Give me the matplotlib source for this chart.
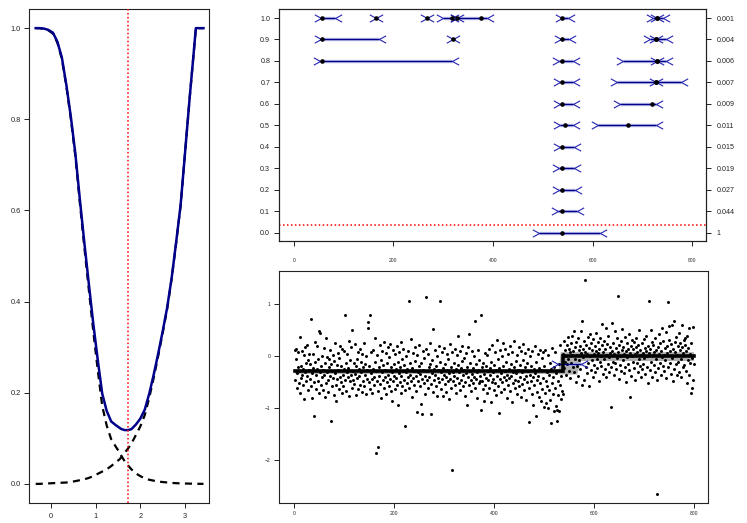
import matplotlib
matplotlib.use("Agg")
import matplotlib.pyplot as plt
from matplotlib.path import Path
import numpy as np

plt.rcParams['font.family'] = ['Liberation Sans', 'DejaVu Sans']

# ---------------- left panel data ----------------
curve_x = [-0.335, -0.25, -0.15, -0.05, 0.05, 0.15, 0.25, 0.35, 0.45, 0.55, 0.65, 0.75, 0.85,
           0.95, 1.05, 1.15, 1.25, 1.35, 1.45, 1.55, 1.585, 1.65, 1.73, 1.8, 1.9, 2.0, 2.1,
           2.2, 2.3, 2.4, 2.5, 2.6, 2.7, 2.8, 2.9, 3.0, 3.1, 3.2, 3.24, 3.3, 3.41]
total_y = [1.0, 1.0, 0.999, 0.996, 0.99, 0.97, 0.935, 0.875, 0.805, 0.725, 0.625, 0.53, 0.44,
           0.352, 0.272, 0.198, 0.16, 0.137, 0.129, 0.122, 0.12, 0.118, 0.118, 0.12, 0.13, 0.143, 0.163,
           0.198, 0.24, 0.286, 0.335, 0.387, 0.452, 0.53, 0.612, 0.728, 0.845, 0.955, 1.0, 1.0, 1.0]
dec_y = [1.0, 1.0, 0.998, 0.995, 0.988, 0.968, 0.932, 0.872, 0.801, 0.719, 0.617, 0.52, 0.427,
         0.335, 0.25, 0.171, 0.128, 0.098, 0.082, 0.067, 0.06, 0.05, 0.04, 0.032, 0.023, 0.017, 0.012,
         0.009, 0.007, 0.005, 0.004, 0.003, 0.002, 0.0015, 0.001, 0.0008, 0.0005, 0.0003, 0.0002, 0.0001, 0.0]
inc_y = [0.0, 0.0, 0.0005, 0.001, 0.0015, 0.002, 0.0025, 0.003, 0.004, 0.006, 0.008, 0.010, 0.013,
         0.017, 0.022, 0.027, 0.032, 0.039, 0.047, 0.055, 0.06, 0.068, 0.078, 0.088, 0.107, 0.126, 0.151,
         0.189, 0.233, 0.281, 0.331, 0.384, 0.45, 0.5285, 0.611, 0.7272, 0.8445, 0.9547, 0.9998, 1.0, 1.0]
left_vline = 1.73

# ---------------- top right panel data ----------------
levels = [0.0, 0.1, 0.2, 0.3, 0.4, 0.5, 0.6, 0.7, 0.8, 0.9, 1.0]
pvalue_labels = ['1', '0.044', '0.027', '0.019', '0.015', '0.011', '0.009', '0.007', '0.006', '0.004', '0.001']
ci_level = [1.0, 1.0, 1.0, 1.0, 1.0, 1.0, 1.0, 1.0, 1.0,
            0.9, 0.9, 0.9, 0.9, 0.9,
            0.8, 0.8, 0.8, 0.8,
            0.7, 0.7, 0.7,
            0.6, 0.6,
            0.5, 0.5,
            0.4, 0.3, 0.2, 0.1, 0.0]
ci_left = [54, 165, 267, 299, 327, 327, 539, 722, 730,
           54, 319, 536, 716, 728,
           53, 533, 660, 730,
           534, 649, 728,
           534, 655,
           534, 611,
           534, 533, 533, 531, 492]
ci_est = [57, 165, 267, 318, 327, 375, 539, 730, 730,
          57, 319, 539, 728, 728,
          57, 539, 730, 730,
          539, 728, 728,
          539, 720,
          545, 671,
          539, 539, 539, 539, 539]
ci_right = [83, 165, 267, 318, 327, 387, 551, 742, 730,
            171, 319, 553, 747, 728,
            318, 560, 748, 730,
            561, 777, 728,
            561, 727,
            561, 728,
            562, 563, 565, 568, 615]
alpha_line = 0.037

# ---------------- bottom right panel data ----------------
seg1 = [
 -0.45, 0.12, -0.05, 0.15, -0.32, -0.60, 0.08, -0.20, -0.28, -0.52, -0.70, 0.38, -0.18, -0.41, 0.10, -0.35, -0.25, -0.55, 0.02, -0.82,
 -0.30, 0.18, -0.12, -0.48, -0.38, 0.21, -0.65, -0.08, -0.27, 0.05, -0.44, -0.15, -0.58, 0.72, -0.33, -0.80, 0.04, -0.22, -1.15, -0.50,
 -0.10, 0.28, -0.62, -0.36, -0.24, 0.19, -0.47, -0.05, -0.70, 0.49, -0.30, 0.44, -0.18, -0.56, -0.40, 0.00, -0.64, -0.26, 0.16, -0.35,
 -0.78, -0.12, 0.36, -0.52, -0.31, -0.02, -0.45, -0.68, -0.20, -0.06, 0.12, -0.38, -1.24, -0.15, -0.58, -0.29, 0.03, -0.42, -0.74, -0.09,
 -0.33, 0.25, -0.55, -0.85, -0.16, -0.44, 0.07, -0.27, -0.62, -0.03, -0.39, 0.20, -0.50, -0.19, -0.71, 0.14, -0.35, -0.57, 0.10, -0.25,
 -0.46, 0.80, -0.13, -0.66, -0.30, 0.05, -0.40, -0.22, -0.76, 0.30, -0.48, -0.08, -0.36, 0.18, -0.60, 0.50, -0.28, -0.45, -0.12, -0.53,
 0.23, -0.34, -0.75, -0.19, -0.05, -0.42, 0.09, -0.63, -0.25, -0.38, 0.15, -0.55, -0.11, -0.30, -0.68, 0.04, -0.21, -0.47, 0.26, -0.58,
 -0.36, -0.14, -0.72, 0.00, -0.43, -0.27, 0.55, 0.66, -0.50, -0.18, -0.62, 0.79, -0.32, 0.08, -0.44, -0.70, -0.24, 0.12, -0.39, -0.56,
 -0.10, 0.35, -1.85, -0.28, -0.48, 0.02, -0.66, -1.75, -0.20, -0.37, 0.22, -0.53, -0.07, -0.81, -0.31, 0.10, -0.45, -0.16, 0.28, -0.60,
 -0.26, -0.40, 0.06, -0.73, -0.12, -0.50, 0.17, -0.35, -0.58, -0.02, -0.44, 0.24, -0.67, -0.21, -0.30, -0.86, 0.13, -0.47, -0.15, -0.38,
 0.04, -0.62, -0.25, -0.42, 0.19, -0.55, -0.93, -0.11, -0.33, 0.09, -0.49, -0.20, -0.70, 0.27, -0.37, -0.06, -0.57, -0.29, 0.14, -0.45,
 -0.17, -0.64, -1.33, -0.31, 0.01, -0.52, -0.24, -0.40, 0.11, 1.06, -0.60, -0.13, -0.36, 0.33, -0.48, -0.78, -0.22, 0.07, -0.42, -0.28,
 -0.55, 0.18, -0.09, -0.38, -0.66, -1.07, 0.03, -0.30, -0.47, -0.19, 0.22, -0.58, -0.34, -0.92, -0.12, -0.43, -1.10, 0.10, -0.26, -0.51,
 -0.04, -0.37, -0.72, 0.15, 1.15, -0.29, -0.45, 0.05, -0.61, -0.21, -0.40, -0.14, 0.26, -0.53, -1.10, -0.32, -0.08, -0.68, 0.52, -0.24,
 -0.46, 0.12, -0.35, -0.57, -0.18, 0.00, -0.77, -0.41, -0.27, 0.20, -0.50, -0.11, 1.06, -0.63, -0.30, 0.08, -0.44, -0.22, -0.77, -0.36,
 0.16, -0.54, -0.15, -0.39, -0.68, 0.04, -0.26, -0.48, -0.05, -0.82, -0.33, 0.23, -0.43, -0.20, -0.60, 0.09, -2.19, -0.31, -0.47, -0.12,
 -0.38, 0.14, -0.56, -0.25, -0.70, 0.02, -0.42, 0.40, -0.17, -0.52, -0.30, 0.11, -0.64, -0.22, -0.45, -0.09, 0.19, -0.36, -0.58, -0.27,
 -0.03, -0.49, -0.76, 0.06, -0.33, -0.20, -0.93, -0.40, 0.17, -0.55, 0.42, -0.28, -0.12, -0.46, -0.66, 0.10, -0.34, -0.23, -0.51, 0.01,
 -0.39, 0.68, -0.60, -0.15, -0.44, -0.30, -0.80, 0.13, -0.26, -0.52, -0.08, -0.48, -0.37, 0.79, -1.03, -0.21, -0.47, -0.62, -0.12, -0.85,
 -0.34, 0.07, -0.55, -0.18, -0.41, -0.70, 0.03, -0.28, -0.46, 0.15, -0.60, -0.22, -0.36, -0.88, -0.10, -0.50, 0.21, -0.31, -0.43, -0.65,
 -0.16, 0.09, -0.52, -0.27, -0.74, 0.31, -0.38, -0.05, -0.58, -1.08, -0.23, 0.12, -0.44, -0.32, -0.68, 0.00, -0.50, -0.19, 0.25, -0.40,
 -0.62, -0.29, 0.14, -0.46, -0.11, -0.80, -0.35, 0.05, -0.55, -0.24, -0.42, 0.20, -0.67, -0.14, -0.37, -0.88, 0.08, -0.30, -0.52, -0.20,
 0.30, -0.45, -0.61, -0.09, -0.33, 0.02, -0.72, -0.26, -0.48, 0.18, -0.58, -0.16, -0.40, -0.78, 0.10, -0.31, -0.53, -0.07, 0.23, -0.44,
 -0.65, -0.21, 0.06, -0.38, -0.83, -0.13, -0.50, 0.15, -0.28, -0.60, -1.27, -0.35, 0.01, -0.47, -0.19, -0.73, 0.11, -0.40, -0.94, -0.25,
 -0.56, 0.20, -0.32, -1.15, -0.10, -0.45, -0.68, 0.04, -0.37, -0.79, -0.22, 0.13, -0.51, -0.86, -0.27, -0.04, -0.62, 0.09, -0.41, -0.98,
 -0.18, -0.70, 0.12, -0.47, -0.90, -0.30, -0.58, 0.02, -1.00, -0.36, -0.64, -0.12, -0.84, -1.29, -0.25, 0.16, -0.52, -0.73, -0.40, -1.06,
 -0.20, -0.60, 0.08, -0.95, -0.33, -1.25, -1.03, -0.48, -0.75, -0.14, -1.05, -0.55, 0.22, -0.38, -0.82, -0.66, -0.28, -0.72]
seg2 = [
 0.05, -0.22, 0.30, -0.10, 0.12, -0.35, 0.00, 0.22, -0.15, 0.38, -0.05, -0.28, 0.15, 0.08, -0.42, 0.25, -0.12, 0.03, 0.40, -0.20,
 0.10, 0.49, -0.30, 0.18, -0.06, -0.50, 0.28, 0.02, -0.18, 0.35, -0.38, 0.12, -0.08, 0.20, -0.25, 0.06, 0.48, 0.67, -0.55, 0.15,
 -0.02, 0.30, -0.45, 1.47, 0.08, -0.20, 0.22, -0.32, 0.05, 0.38, -0.12, 0.16, -0.58, 0.42, 0.00, -0.26, 0.26, -0.08, 0.12, -0.40,
 0.33, 0.04, -0.16, 0.20, -0.30, 0.10, 0.45, -0.05, -0.22, 0.28, 0.07, -0.48, 0.15, -0.10, 0.36, 0.00, -0.18, 0.62, 0.22, -0.34,
 0.09, -0.06, 0.30, -0.25, 0.14, 0.55, -0.40, 0.02, 0.24, -0.14, 0.40, -0.02, -0.30, 0.18, 0.06, -0.20, -0.97, 0.65, 0.11, -0.10,
 0.26, -0.36, 0.04, 0.48, -0.12, 0.16, -0.24, 0.35, -0.04, 0.08, 1.16, -0.44, 0.22, 0.01, -0.16, 0.30, -0.28, 0.12, 0.52, -0.08,
 0.18, -0.32, 0.05, 0.38, -0.20, 0.10, -0.50, 0.25, -0.02, 0.14, -0.14, 0.43, -0.26, 0.06, -0.78, 0.20, -0.38, 0.32, 0.00, -0.10,
 0.15, 0.28, -0.22, 0.04, -0.45, 0.18, 0.36, -0.12, 0.09, -0.30, 0.22, -0.06, 0.50, -0.18, 0.12, -0.40, 0.02, 0.26, -0.24, 0.07,
 -0.14, 0.34, -0.04, 0.16, -0.34, 0.10, 0.40, -0.20, 0.00, -0.52, 0.20, 0.06, 1.07, -0.26, 0.14, 0.50, -0.10, 0.28, -0.40, 0.03,
 0.22, -0.16, 0.08, -0.30, 0.36, -0.06, 0.12, -0.46, -2.65, 0.18, -0.22, 0.04, 0.42, -0.12, 0.26, -0.36, 0.10, 0.55, -0.02, -0.18,
 0.30, 0.02, -0.28, 0.16, -0.08, 0.46, -0.42, 0.20, 0.06, 1.05, -0.20, 0.32, 0.58, -0.12, 0.10, -0.34, 0.24, 0.60, -0.04, -0.48,
 0.14, 0.67, -0.24, 0.08, 0.28, -0.14, 0.38, -0.36, 0.02, 0.20, -0.10, 0.44, -0.30, 0.12, 0.26, -0.06, -0.40, 0.60, 0.18, -0.20,
 0.06, 0.32, -0.16, 0.22, 0.35, -0.28, 0.10, -0.52, 0.40, -0.08, 0.16, 0.55, -0.36, 0.04, -0.12, -0.71, 0.25, -0.60, -0.04, 0.56,
 -0.45, -0.15]
fit_breaks = [1, 538.5, 800]
fit_levels = [-0.29, 0.01]
band_x = [1, 529, 533, 566, 574, 800]
band_lo = [-0.33, -0.33, -0.34, -0.34, -0.08, -0.08]
band_hi = [-0.25, -0.25, 0.09, 0.09, 0.09, 0.09]
cp_ci = [528.5, 574.5]
cp_ci_y = -0.14

# ---------------- figure ----------------
W, H = 747, 523
fig = plt.figure(figsize=(W / 100, H / 100), dpi=100)

def frac(x0, y0, x1, y1):
    return [x0 / W, 1 - y1 / H, (x1 - x0) / W, (y1 - y0) / H]

NAVY = '#00008B'
CHEV = '#2424b0'
TICK_COL = '#222222'

def style(ax, fs):
    for s in ax.spines.values():
        s.set_linewidth(0.8)
        s.set_color('#222222')
    ax.tick_params(direction='out', length=3.6, width=0.7, labelsize=fs,
                   colors='#222222', labelcolor=TICK_COL, pad=2.5)

# chevron markers (vertex at the interval end, barbs pointing outward)
left_chev = Path([(-1, 0.55), (0, 0), (-1, -0.55)], [Path.MOVETO, Path.LINETO, Path.LINETO])
right_chev = Path([(1, 0.55), (0, 0), (1, -0.55)], [Path.MOVETO, Path.LINETO, Path.LINETO])
CHEV_MS = 9.6

def draw_ci(ax, l, r, y, est=None):
    ax.plot([l, r], [y, y], color='#b4b4e6', lw=2.4, solid_capstyle='butt', zorder=2)
    ax.plot([l, r], [y, y], color=NAVY, lw=0.9, solid_capstyle='butt', zorder=3)
    ax.plot([l], [y], marker=left_chev, ms=CHEV_MS, mfc='none', mec=CHEV, mew=0.8, ls='none', zorder=4)
    ax.plot([r], [y], marker=right_chev, ms=CHEV_MS, mfc='none', mec=CHEV, mew=0.8, ls='none', zorder=4)
    if est is not None:
        ax.plot([est], [y], 'o', ms=3.3, color='black', mec='none', zorder=5)

# ---- left panel ----
ax1 = fig.add_axes(frac(29, 9, 209, 503))
ax1.plot(curve_x, dec_y, color='black', lw=1.6, dashes=(3.2, 2.4), zorder=2)
ax1.plot(curve_x, inc_y, color='black', lw=1.6, dashes=(3.2, 2.4), zorder=2)
ax1.plot(curve_x, total_y, color=NAVY, lw=1.8, zorder=3)
ax1.axvline(left_vline, color='red', lw=1.1, dashes=(1, 1.6), zorder=4)
ax1.set_xlim(-0.4844, 3.5335)
ax1.set_ylim(-0.042, 1.042)
ax1.set_xticks([0, 1, 2, 3])
ax1.set_yticks([0.0, 0.2, 0.4, 0.6, 0.8, 1.0])
ax1.set_yticklabels(['0.0', '0.2', '0.4', '0.6', '0.8', '1.0'])
style(ax1, 5.3)
ax1.tick_params(axis='x', pad=3.5)

# ---- top right panel ----
ax2 = fig.add_axes(frac(278.7, 9, 705.7, 240.7))
for lv, l, e, r in zip(ci_level, ci_left, ci_est, ci_right):
    draw_ci(ax2, l, r, lv, e)
ax2.axhline(alpha_line, color='red', lw=1.1, dashes=(1, 1.6), zorder=1)
ax2.set_xlim(-30.1, 826.8)
ax2.set_ylim(-0.038, 1.042)
ax2.set_xticks([0, 200, 400, 600, 800])
ax2.set_yticks(levels)
ax2.set_yticklabels(['%.1f' % v for v in levels])
style(ax2, 5.1)
ax2.tick_params(axis='x', labelsize=3.6, pad=9)
ax2r = ax2.twinx()
ax2r.set_ylim(ax2.get_ylim())
ax2r.set_yticks(levels)
ax2r.set_yticklabels(pvalue_labels)
style(ax2r, 5.1)
ax2r.tick_params(axis='y', pad=4.5)

# ---- bottom right panel ----
ax3 = fig.add_axes(frac(278.7, 271.3, 708, 503))
n1 = len(seg1)
xs = np.arange(1, n1 + len(seg2) + 1)
ys = np.array(seg1 + seg2)
ax3.fill_between(band_x, band_lo, band_hi, color='#b0b0b0', lw=0, zorder=1)
ax3.scatter(xs, ys, s=4.6, color='black', linewidths=0, zorder=3)
ax3.plot([fit_breaks[0], fit_breaks[1], fit_breaks[1], fit_breaks[2]],
         [fit_levels[0], fit_levels[0], fit_levels[1], fit_levels[1]],
         color='black', lw=2.6, solid_joinstyle='miter', zorder=4)
draw_ci(ax3, cp_ci[0], cp_ci[1], cp_ci_y)
ax3.set_xlim(-31, 829)
ax3.set_ylim(-2.82, 1.635)
ax3.set_xticks([0, 200, 400, 600, 800])
ax3.set_yticks([-2, -1, 0, 1])
style(ax3, 3.6)

fig.savefig('out.png', dpi=100)
